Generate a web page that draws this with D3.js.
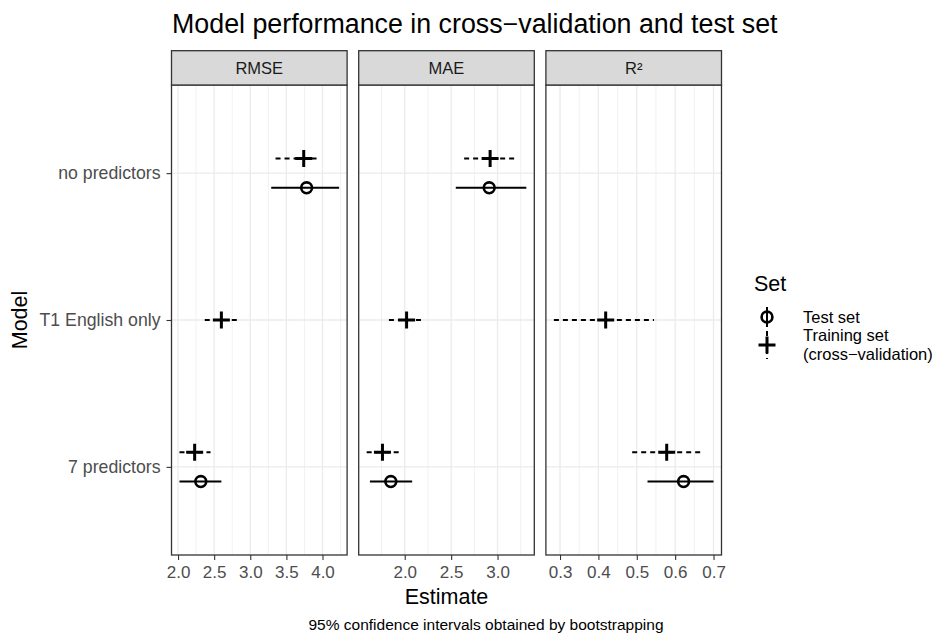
<!DOCTYPE html>
<html><head><meta charset="utf-8">
<script src="https://cdn.jsdelivr.net/npm/d3@7"></script>
<style>
body{margin:0;background:#fff}
svg{display:block}
text{font-family:"Liberation Sans",Arial,Helvetica,sans-serif}
</style>
</head><body><svg id="c" width="948" height="636"></svg>
<script>
// ---------- data ----------
const models = ["7 predictors", "T1 English only", "no predictors"]; // bottom -> top
const metrics = ["RMSE", "MAE", "R²"];
const setNames = ["Test set", "Training set\n(cross\u2212validation)"];
// per model: [estimate, lower, upper]
const rmseTrain = [[2.23, 2.02, 2.45], [2.60, 2.37, 2.83], [3.74, 3.35, 3.95]];
const rmseTest  = [[2.315, 2.02, 2.60], null, [3.78, 3.29, 4.23]];
const maeTrain  = [[1.76, 1.59, 1.94], [2.02, 1.83, 2.19], [2.92, 2.64, 3.20]];
const maeTest   = [[1.85, 1.625, 2.08], null, [2.91, 2.55, 3.31]];
const r2Train   = [[0.578, 0.488, 0.666], [0.419, 0.284, 0.545], null];
const r2Test    = [[0.622, 0.528, 0.700], null, null];
const rmseTicks = [2.0, 2.5, 3.0, 3.5, 4.0];
const maeTicks  = [2.0, 2.5, 3.0];
const r2Ticks   = [0.3, 0.4, 0.5, 0.6, 0.7];

const panels = [
  {name: metrics[0], train: rmseTrain, test: rmseTest, ticks: rmseTicks},
  {name: metrics[1], train: maeTrain,  test: maeTest,  ticks: maeTicks},
  {name: metrics[2], train: r2Train,   test: r2Test,   ticks: r2Ticks}
];

// ---------- layout ----------
const svg = d3.select("#c");
const pLeft = 171.5, panelW = 175.6, gap = 11.6;
const stripTop = 50.7, pTop = 85, pBottom = 555;
const grid = "#EBEBEB", dark = "#333333";

const y = d3.scalePoint().domain(models).range([pBottom, pTop]).padding(0.6);
const dodge = y.step() * 0.1;

// title
svg.append("text").attr("x", pLeft + 0.5).attr("y", 33).attr("font-size", 26.8)
  .attr("fill", "#000").text("Model performance in cross\u2212validation and test set");

panels.forEach((p, i) => {
  const x0 = pLeft + i * (panelW + gap), x1 = x0 + panelW;
  const vals = [];
  [p.train, p.test].forEach(arr => arr.forEach(d => { if (d) vals.push(d[1], d[2]); }));
  const ext = d3.extent(vals), pad = (ext[1] - ext[0]) * 0.05;
  const x = d3.scaleLinear().domain([ext[0] - pad, ext[1] + pad]).range([x0, x1]);
  const g = svg.append("g");

  // minor grid
  const step = p.ticks[1] - p.ticks[0];
  const minor = [];
  for (let k = -1; k < p.ticks.length; k++) {
    const v = p.ticks[0] + (k + 0.5) * step;
    if (v > x.domain()[0] && v < x.domain()[1]) minor.push(v);
  }
  g.selectAll(".mn").data(minor).join("line")
    .attr("x1", d => x(d)).attr("x2", d => x(d)).attr("y1", pTop).attr("y2", pBottom)
    .attr("stroke", grid).attr("stroke-width", 0.7);
  // major grid
  g.selectAll(".mj").data(p.ticks).join("line")
    .attr("x1", d => x(d)).attr("x2", d => x(d)).attr("y1", pTop).attr("y2", pBottom)
    .attr("stroke", grid).attr("stroke-width", 1.3);
  g.selectAll(".hy").data(models).join("line")
    .attr("x1", x0).attr("x2", x1).attr("y1", d => y(d)).attr("y2", d => y(d))
    .attr("stroke", grid).attr("stroke-width", 1.3);

  // marks
  const rows = [];
  models.forEach((m, j) => {
    const tr = p.train[j], te = p.test[j];
    const both = tr && te;
    if (tr) rows.push({set: "train", m, v: tr, yy: y(m) - (both ? dodge : 0)});
    if (te) rows.push({set: "test", m, v: te, yy: y(m) + (both ? dodge : 0)});
  });
  rows.forEach(r => {
    g.append("line").attr("x1", x(r.v[1])).attr("x2", x(r.v[2]))
      .attr("y1", r.yy).attr("y2", r.yy).attr("stroke", "#000").attr("stroke-width", 2)
      .attr("stroke-dasharray", r.set === "train" ? "5,4" : null);
    if (r.set === "test") {
      g.append("circle").attr("cx", x(r.v[0])).attr("cy", r.yy).attr("r", 5.4)
        .attr("fill", "none").attr("stroke", "#000").attr("stroke-width", 2.6);
    } else {
      const cx = x(r.v[0]);
      g.append("path").attr("d", `M${cx - 8.5},${r.yy}H${cx + 8.5}M${cx},${r.yy - 8.5}V${r.yy + 8.5}`)
        .attr("stroke", "#000").attr("stroke-width", 3).attr("fill", "none");
    }
  });

  // panel border
  g.append("rect").attr("x", x0).attr("y", pTop).attr("width", panelW).attr("height", pBottom - pTop)
    .attr("fill", "none").attr("stroke", dark).attr("stroke-width", 1.3);
  // strip
  g.append("rect").attr("x", x0).attr("y", stripTop).attr("width", panelW).attr("height", pTop - stripTop)
    .attr("fill", "#D9D9D9").attr("stroke", dark).attr("stroke-width", 1.3);
  g.append("text").attr("x", (x0 + x1) / 2).attr("y", 74).attr("text-anchor", "middle")
    .attr("font-size", 16.5).attr("fill", "#1A1A1A").text(p.name);

  // x axis
  const ax = svg.append("g").attr("transform", `translate(0,${pBottom})`)
    .call(d3.axisBottom(x).tickValues(p.ticks).tickFormat(d3.format(".1f")).tickSizeOuter(0).tickSize(5).tickPadding(6));
  ax.select(".domain").remove();
  ax.selectAll(".tick line").attr("stroke", dark).attr("stroke-width", 1.1);
  ax.selectAll(".tick text").attr("font-size", 17).attr("fill", "#4D4D4D")
    .attr("font-family", "Liberation Sans, Arial, sans-serif");
});

// y axis
const ay = svg.append("g").attr("transform", `translate(${pLeft},0)`)
  .call(d3.axisLeft(y).tickSize(5).tickPadding(6).tickSizeOuter(0));
ay.select(".domain").remove();
ay.selectAll(".tick line").attr("stroke", dark).attr("stroke-width", 1.1);
ay.selectAll(".tick text").attr("font-size", 17.7).attr("fill", "#4D4D4D")
  .attr("font-family", "Liberation Sans, Arial, sans-serif");

// axis titles
svg.append("text").attr("x", pLeft + (3 * panelW + 2 * gap) / 2).attr("y", 604)
  .attr("text-anchor", "middle").attr("font-size", 21.5).text("Estimate");
svg.append("text").attr("transform", `translate(27,${(pTop + pBottom) / 2}) rotate(-90)`)
  .attr("text-anchor", "middle").attr("font-size", 21.5).text("Model");

// caption
svg.append("text").attr("x", 486).attr("y", 630)
  .attr("text-anchor", "middle").attr("font-size", 15.5).text("95% confidence intervals obtained by bootstrapping");

// legend
const lg = svg.append("g");
lg.append("text").attr("x", 754).attr("y", 291).attr("font-size", 21.5).text("Set");
const kx = 767;
const k1 = 317;
lg.append("line").attr("x1", kx).attr("x2", kx).attr("y1", k1 - 10).attr("y2", k1 + 10)
  .attr("stroke", "#000").attr("stroke-width", 2);
lg.append("circle").attr("cx", kx).attr("cy", k1).attr("r", 5.4).attr("fill", "none")
  .attr("stroke", "#000").attr("stroke-width", 2.6);
lg.append("text").attr("x", 803).attr("y", 322.5).attr("font-size", 16.5).text(setNames[0]);
const k2 = 345;
lg.append("line").attr("x1", kx).attr("x2", kx).attr("y1", k2 - 14).attr("y2", k2 + 14)
  .attr("stroke", "#000").attr("stroke-width", 2).attr("stroke-dasharray", "5,4");
lg.append("path").attr("d", `M${kx - 8.5},${k2}H${kx + 8.5}M${kx},${k2 - 8.5}V${k2 + 8.5}`)
  .attr("stroke", "#000").attr("stroke-width", 3);
const lines = setNames[1].split("\n");
lg.append("text").attr("x", 803).attr("y", 341).attr("font-size", 16.5).text(lines[0]);
lg.append("text").attr("x", 803).attr("y", 360).attr("font-size", 16.5).text(lines[1]);
</script></body></html>
